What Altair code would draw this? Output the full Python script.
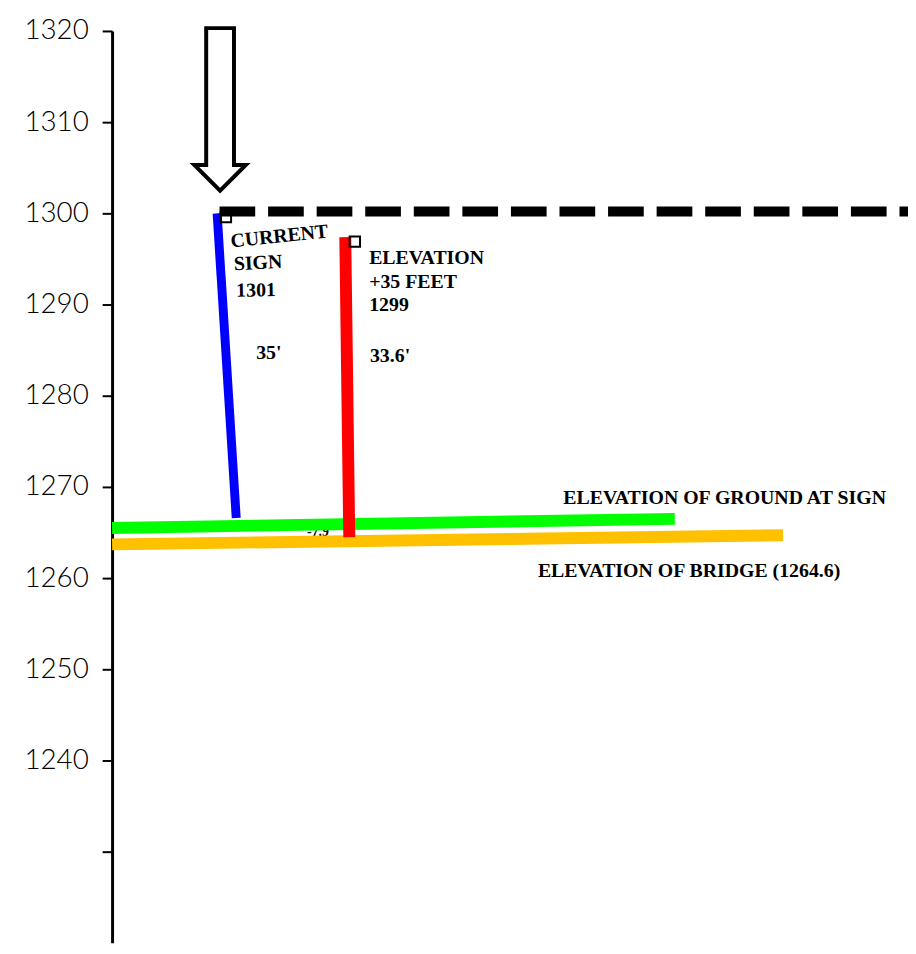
import altair as alt
import pandas as pd

# --- data (x: horizontal distance units 0-100, y: elevation in feet) ---
sign_x = [13.2, 15.6]
sign_y = [1300.0, 1266.6]
raised_x = [29.3, 29.8]
raised_y = [1297.4, 1264.5]
ground_x = [0.0, 70.7]
ground_y = [1265.5, 1266.5]
bridge_x = [0.0, 84.3]
bridge_y = [1263.7, 1264.7]
target_x = [13.5, 100.0]
target_y = [1300.2, 1300.2]

tick_values = [1230, 1240, 1250, 1260, 1270, 1280, 1290, 1300, 1310, 1320]

label_text = ["CURRENT", "SIGN", "1301", "ELEVATION", "+35 FEET", "1299",
              "35'", "33.6'", "ELEVATION OF GROUND AT SIGN",
              "ELEVATION OF BRIDGE (1264.6)"]
label_x = [14.9, 15.3, 15.6, 32.3, 32.3, 32.3, 18.1, 32.4, 56.7, 53.5]
label_y = [1296.9, 1294.4, 1291.5, 1295.1, 1292.5, 1289.9, 1284.7, 1284.3, 1268.8, 1260.8]
label_angle = [354, 357, 359, 0, 0, 0, 0, 0, 0, 0]

hidden_text = ["-7.9"]
hidden_x = [24.5]
hidden_y = [1265.0]

box_x = [14.3, 30.5]
box_y = [1299.6, 1296.9]

arrow_x = [13.57]
arrow_y = [1311.4]

X = alt.Scale(domain=[0, 100])
Y = alt.Scale(domain=[1220, 1320])

xe = alt.X("x:Q", scale=X, axis=None)
ye = alt.Y("y:Q", scale=Y, title=None)

def seg(xs, ys):
    return pd.DataFrame({"x": xs, "y": ys})

def line(xs, ys, color, width, dash=None):
    kw = dict(color=color, strokeWidth=width, clip=False, strokeCap="butt")
    if dash:
        kw["strokeDash"] = dash
    return alt.Chart(seg(xs, ys)).mark_line(**kw).encode(x=xe, y=ye)

axis_layer = alt.Chart(seg(bridge_x, bridge_y)).mark_point(opacity=0).encode(
    x=xe,
    y=alt.Y("y:Q", scale=Y, title=None, axis=alt.Axis(values=tick_values)),
)

hidden = alt.Chart(pd.DataFrame({"x": hidden_x, "y": hidden_y, "t": hidden_text})).mark_text(
    font="Liberation Serif", fontWeight="bold", fontSize=14, align="left",
    baseline="middle", color="black").encode(x=xe, y=ye, text="t:N")

ground = line(ground_x, ground_y, "#00FF00", 12)
bridge = line(bridge_x, bridge_y, "#FFC000", 12)
sign = line(sign_x, sign_y, "#0000FF", 9)
raised = line(raised_x, raised_y, "#FF0000", 12)
target = line(target_x, target_y, "black", 10, dash=[36, 13])

boxes = alt.Chart(pd.DataFrame({"x": box_x, "y": box_y})).mark_point(
    shape="square", size=110, filled=False, color="black", strokeWidth=2, opacity=1).encode(
    x=xe, y=ye)

labels = alt.Chart(pd.DataFrame({"x": label_x, "y": label_y, "t": label_text, "a": label_angle})).mark_text(
    font="Liberation Serif", fontWeight="bold", fontSize=20, align="left",
    baseline="middle", color="black").encode(
    x=xe, y=ye, text="t:N", angle=alt.Angle("a:Q", scale=None))

arrow_path = "M-0.171,-1L0.171,-1L0.171,0.683L0.317,0.683L0,1L-0.317,0.683L-0.171,0.683Z"
arrow = alt.Chart(pd.DataFrame({"x": arrow_x, "y": arrow_y})).mark_point(
    shape=arrow_path, size=26896, filled=True, fill="white", stroke="black",
    strokeWidth=4, opacity=1).encode(x=xe, y=ye)

chart = alt.layer(axis_layer, hidden, ground, bridge, sign, raised, target, boxes, labels, arrow).properties(
    width=803, height=920,
    padding={"left": 105, "top": 19, "right": 0, "bottom": 0},
    autosize=alt.AutoSizeParams(type="none"),
    background="white",
).configure_view(stroke=None).configure_axisY(
    grid=False,
    labelExpr="datum.value == 1230 ? '' : '' + datum.value",
    labelFont="Lato", labelFontWeight=300, labelFontSize=28,
    labelColor="black", labelPadding=14, tickSize=10, tickWidth=2,
    tickColor="black", domainColor="black", domainWidth=3,
)

chart.save("out.html", embed_options={"renderer": "svg", "actions": False})
